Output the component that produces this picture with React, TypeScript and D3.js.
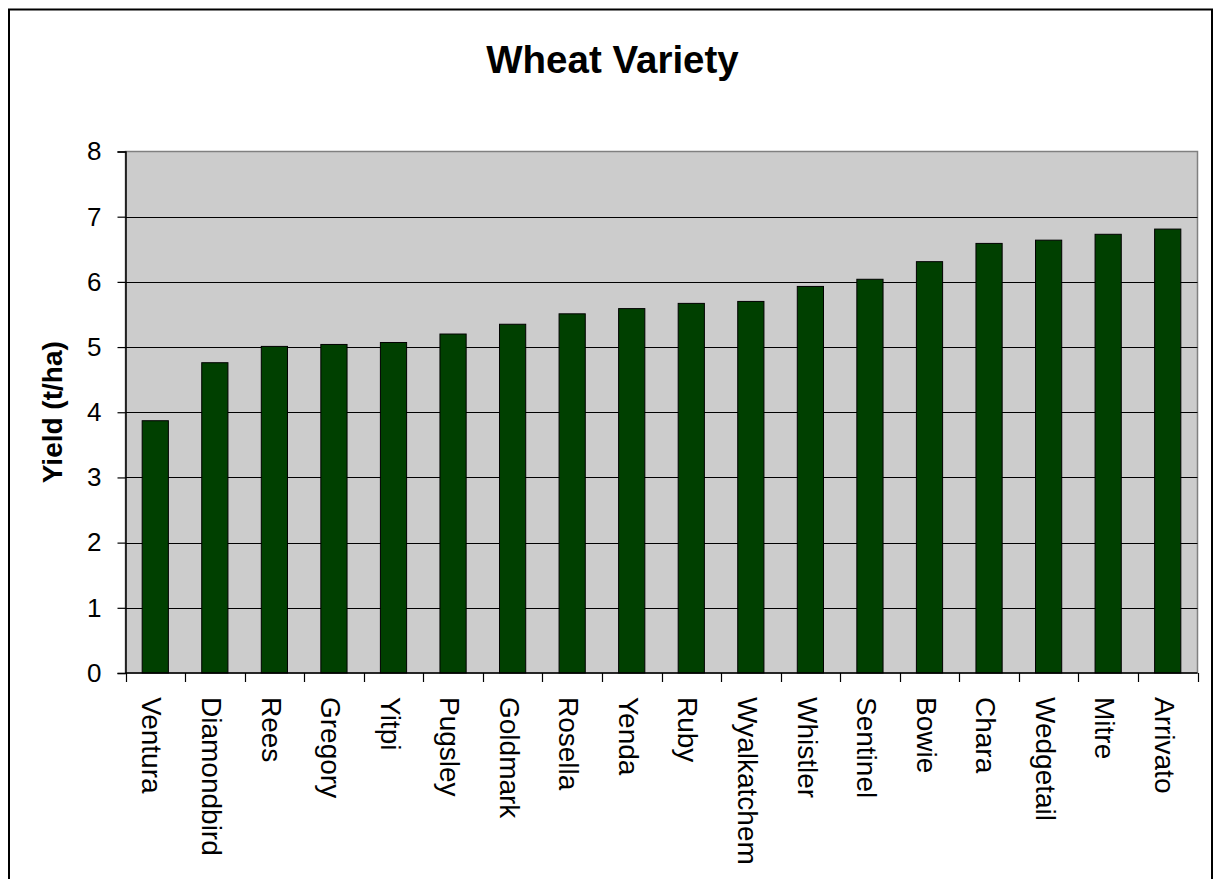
import React, { useEffect, useRef } from 'react';
import * as d3 from 'd3';

const varieties = [
  'Ventura', 'Diamondbird', 'Rees', 'Gregory', 'Yitpi', 'Pugsley', 'Goldmark', 'Rosella', 'Yenda',
  'Ruby', 'Wyalkatchem', 'Whistler', 'Sentinel', 'Bowie', 'Chara', 'Wedgetail', 'Mitre', 'Arrivato'
];
const yields = [
  3.87, 4.76, 5.01, 5.04, 5.07, 5.2, 5.35, 5.51, 5.59,
  5.67, 5.7, 5.93, 6.04, 6.31, 6.59, 6.64, 6.73, 6.81
];
const yTicks = [0, 1, 2, 3, 4, 5, 6, 7, 8];

const chartTitle = 'Wheat Variety';
const yTitle = 'Yield (t/ha)';

const App: React.FC = () => {
  const svgRef = useRef<SVGSVGElement>(null);

  useEffect(() => {
    if (!svgRef.current) return;
    const svg = d3.select(svgRef.current);
    svg.selectAll('*').remove();

    // plot area in page pixels
    const left = 125.5, right = 1197.5, top = 151.5, bottom = 673;
    const font = 'Arial, "Liberation Sans", sans-serif';

    // outer frame
    svg.append('rect')
      .attr('x', 9).attr('y', 9.5)
      .attr('width', 1203).attr('height', 900)
      .attr('fill', '#fff')
      .attr('stroke', '#000')
      .attr('stroke-width', 2);

    const x = d3.scaleBand<string>()
      .domain(varieties)
      .range([left, right])
      .padding(0);

    const y = d3.scaleLinear()
      .domain([0, 8])
      .range([bottom, top]);

    // plot background
    svg.append('rect')
      .attr('x', left).attr('y', top)
      .attr('width', right - left).attr('height', bottom - top)
      .attr('fill', '#cccccc')
      .attr('stroke', '#808080')
      .attr('stroke-width', 1.5);

    // gridlines
    svg.append('g')
      .selectAll('line')
      .data(yTicks.filter(t => t > 0 && t < 8))
      .enter().append('line')
      .attr('x1', left).attr('x2', right)
      .attr('y1', d => Math.round(y(d)) + 0.5)
      .attr('y2', d => Math.round(y(d)) + 0.5)
      .attr('stroke', '#000')
      .attr('stroke-width', 1.2);

    // bars
    const bw = x.step() * 0.44;
    svg.append('g')
      .selectAll('rect')
      .data(varieties)
      .enter().append('rect')
      .attr('x', d => (x(d) || 0) + (x.bandwidth() - bw) / 2)
      .attr('y', (d, i) => y(yields[i]))
      .attr('width', bw)
      .attr('height', (d, i) => bottom - y(yields[i]))
      .attr('fill', '#004000')
      .attr('stroke', '#000')
      .attr('stroke-width', 1);

    // y axis
    const yAxis = svg.append('g')
      .attr('transform', `translate(${left},0)`)
      .call(d3.axisLeft(y).tickValues(yTicks).tickSize(8).tickPadding(16).tickFormat(d3.format('d')));
    yAxis.select('.domain').attr('stroke', '#000').attr('stroke-width', 1.5);
    yAxis.selectAll('.tick line').attr('stroke', '#000').attr('stroke-width', 1.2);
    yAxis.selectAll('.tick text')
      .attr('font-family', font)
      .attr('font-size', 26)
      .attr('fill', '#000');

    // x axis line and ticks at band boundaries
    const bounds = varieties.map(v => x(v) || 0).concat([right]);
    svg.append('line')
      .attr('x1', left).attr('x2', right)
      .attr('y1', bottom).attr('y2', bottom)
      .attr('stroke', '#000').attr('stroke-width', 1.5);
    svg.append('g')
      .selectAll('line')
      .data(bounds)
      .enter().append('line')
      .attr('x1', d => Math.round(d) + 0.5).attr('x2', d => Math.round(d) + 0.5)
      .attr('y1', bottom).attr('y2', bottom + 9)
      .attr('stroke', '#000').attr('stroke-width', 1.2);

    // x labels, rotated to read downwards
    svg.append('g')
      .selectAll('text')
      .data(varieties)
      .enter().append('text')
      .attr('transform', d => `translate(${(x(d) || 0) + x.bandwidth() / 2 - 3},697) rotate(90)`)
      .attr('dy', '0.35em')
      .attr('font-family', font)
      .attr('font-size', 28)
      .attr('fill', '#000')
      .text(d => d);

    // title
    svg.append('text')
      .attr('x', 612.5).attr('y', 73)
      .attr('text-anchor', 'middle')
      .attr('font-family', font)
      .attr('font-size', 38.5)
      .attr('font-weight', 'bold')
      .text(chartTitle);

    // y axis title
    svg.append('text')
      .attr('transform', `translate(62,${(top + bottom) / 2}) rotate(-90)`)
      .attr('text-anchor', 'middle')
      .attr('font-family', font)
      .attr('font-size', 28)
      .attr('font-weight', 'bold')
      .text(yTitle);
  }, []);

  return (
    <svg
      ref={svgRef}
      width={1215}
      height={879}
      style={{ position: 'absolute', left: 0, top: 0, background: '#fff' }}
    />
  );
};

export default App;
